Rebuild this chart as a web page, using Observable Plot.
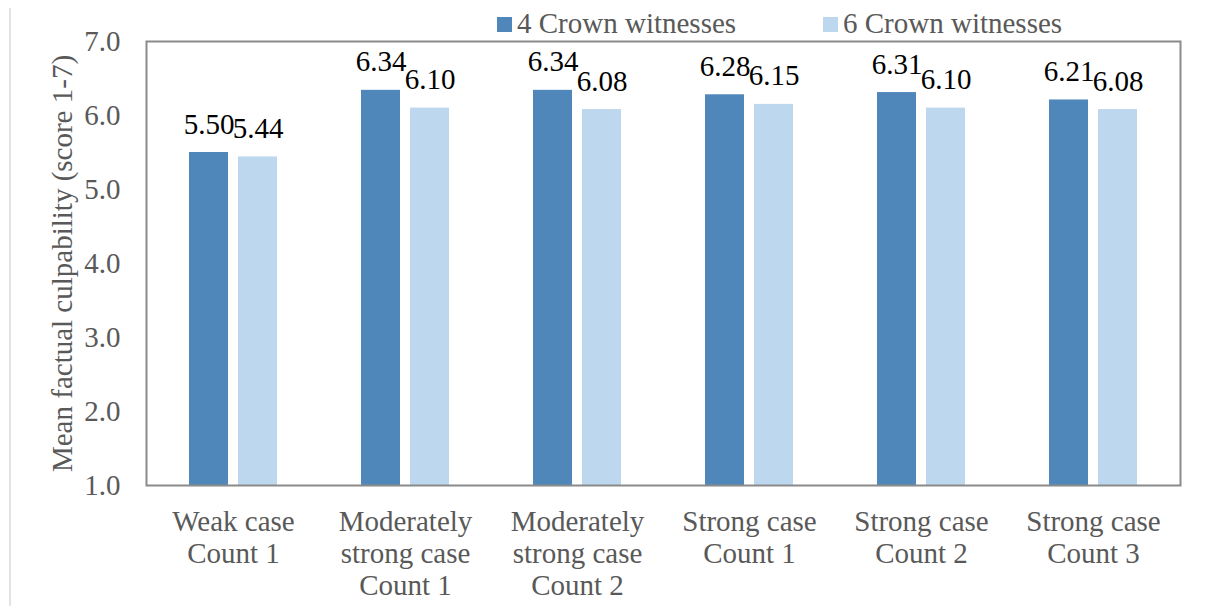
<!DOCTYPE html>
<html>
<head>
<meta charset="utf-8">
<script src="https://cdn.jsdelivr.net/npm/d3@7"></script>
<script src="https://cdn.jsdelivr.net/npm/@observablehq/plot@0.6"></script>
<style>
  html, body { margin: 0; padding: 0; background: #fff; }
  #wrap { position: relative; width: 1208px; height: 606px; overflow: hidden; font-family: "Liberation Serif", "Times New Roman", serif; }
  #edge { position: absolute; left: 9px; top: 8px; width: 2px; height: 600px; background: #e3e3e3; }
  .leg { position: absolute; top: 7px; display: flex; align-items: center; font-size: 29px; color: #595959; line-height: 32px; white-space: nowrap; }
  .sw { width: 15px; height: 15px; margin-right: 5px; margin-top: 2px; }
  svg text { font-family: "Liberation Serif", "Times New Roman", serif; }
</style>
</head>
<body>
<div id="wrap">
  <div id="edge"></div>
  <div id="chart"></div>
  <div id="legend"></div>
</div>
<script>
const categories = [
  "Weak case\nCount 1",
  "Moderately\nstrong case\nCount 1",
  "Moderately\nstrong case\nCount 2",
  "Strong case\nCount 1",
  "Strong case\nCount 2",
  "Strong case\nCount 3"
];
const seriesNames = ["4 Crown witnesses", "6 Crown witnesses"];
const fourCrown = [5.50, 6.34, 6.34, 6.28, 6.31, 6.21];
const sixCrown = [5.44, 6.10, 6.08, 6.15, 6.10, 6.08];
const yTicks = [1, 2, 3, 4, 5, 6, 7];
const yTitle = "Mean factual culpability (score 1-7)";
const colors = ["#4f87ba", "#bdd7ee"];

const d4 = categories.map((c, i) => ({category: c, value: fourCrown[i]}));
const d6 = categories.map((c, i) => ({category: c, value: sixCrown[i]}));

const font = "'Liberation Serif', 'Times New Roman', serif";

const plot = Plot.plot({
  width: 1208,
  height: 606,
  marginLeft: 146,
  marginRight: 28,
  marginTop: 41,
  marginBottom: 121,
  style: {fontFamily: font, fontSize: "29px", color: "#595959", background: "transparent"},
  x: {domain: categories, padding: 0, label: null},
  y: {domain: [1, 7], label: null},
  marks: [
    Plot.barY(d4, {x: "category", y1: 1, y2: "value", fill: colors[0], insetLeft: 42, insetRight: 91}),
    Plot.barY(d6, {x: "category", y1: 1, y2: "value", fill: colors[1], insetLeft: 91, insetRight: 42}),
    Plot.text(d4, {x: "category", y: "value", text: d => d.value.toFixed(2), dx: -24.5, dy: -19, lineAnchor: "bottom", fill: "#000", fontSize: 29, fontFamily: font}),
    Plot.text(d6, {x: "category", y: "value", text: d => d.value.toFixed(2), dx: 24.5, dy: -19, lineAnchor: "bottom", fill: "#000", fontSize: 29, fontFamily: font}),
    Plot.frame({stroke: "#8a8a8a", strokeWidth: 2}),
    Plot.axisY({ticks: yTicks, tickFormat: d3.format(".1f"), tickSize: 0, tickPadding: 26, label: null, fontSize: 29, fontFamily: font, fill: "#595959"}),
    Plot.axisX({tickSize: 0, tickPadding: 23, label: null, fontSize: 29, fontFamily: font, lineHeight: 1.1, fill: "#595959"}),
    Plot.text([yTitle], {frameAnchor: "left", dx: -84, rotate: -90, textAnchor: "middle", fill: "#595959", fontSize: 29, fontFamily: font})
  ]
});
document.getElementById("chart").appendChild(plot);

const legend = document.getElementById("legend");
const legX = [497, 823];
seriesNames.forEach((name, i) => {
  const item = document.createElement("div");
  item.className = "leg";
  item.style.left = legX[i] + "px";
  const sw = document.createElement("span");
  sw.className = "sw";
  sw.style.background = colors[i];
  const t = document.createElement("span");
  t.textContent = name;
  item.appendChild(sw);
  item.appendChild(t);
  legend.appendChild(item);
});
</script>
</body>
</html>
